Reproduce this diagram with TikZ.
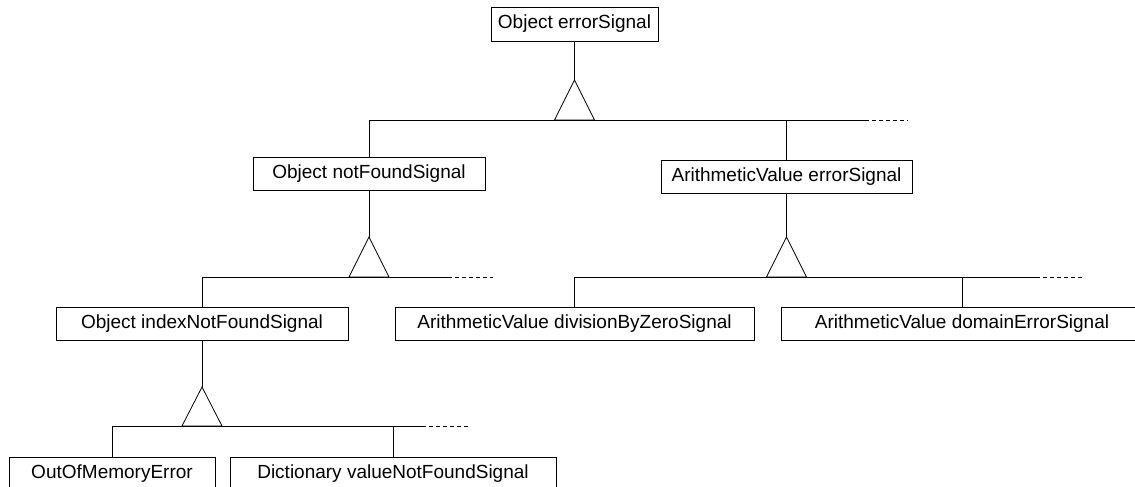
\documentclass[tikz,border=0pt]{standalone}
\usepackage{fontspec}
\setmainfont{Liberation Sans}
\begin{document}
\begin{tikzpicture}[x=1pt,y=-1pt,
  box/.style={draw, rectangle, line width=0.8pt, minimum height=34pt, inner sep=0pt,
              font=\fontsize{19}{22}\selectfont},
  link/.style={line width=0.8pt},
  tail/.style={line width=0.8pt, dash pattern=on 4pt off 3pt},
  gen/.style={line width=0.8pt}]
\useasboundingbox (0,0) rectangle (1135,487);

% classes
\node[box, minimum width=167pt] (top) at (574.5,24) {Object errorSignal};
\node[box, minimum width=232pt, minimum height=33pt] (nf) at (369,173.5) {Object notFoundSignal};
\node[box, minimum width=251pt, minimum height=33pt] (ae) at (786.5,177) {ArithmeticValue errorSignal};
\node[box, minimum width=292pt, minimum height=33pt] (inf) at (202,323.5) {Object indexNotFoundSignal};
\node[box, minimum width=359pt, minimum height=33pt] (dz) at (574.5,323.5) {ArithmeticValue divisionByZeroSignal};
\node[box, minimum width=362pt, minimum height=33pt] (de) at (962,323.5) {ArithmeticValue domainErrorSignal};
\node[box, minimum width=206pt] (oom) at (112,474) {OutOfMemoryError};
\node[box, minimum width=326pt] (dict) at (393,474) {Dictionary valueNotFoundSignal};

% generalisation triangles (apex points) and bus ends
\coordinate (g1) at (574.5,80);
\coordinate (b1) at (865,120);
\coordinate (d1) at (908,120);
\coordinate (g2) at (369,237);
\coordinate (b2) at (448,277);
\coordinate (d2) at (493,277);
\coordinate (g3) at (786.5,237);
\coordinate (b3) at (1036,277);
\coordinate (d3) at (1082,277);
\coordinate (g4) at (202,387);
\coordinate (b4) at (422,426);
\coordinate (d4) at (470,426);

% level 1
\draw[link] (top.south) -- (g1);
\draw[gen] (g1) -- ++(-20,40) -- ++(40,0) -- cycle;
\draw[link] (nf.north) |- (b1);
\draw[link] (ae.north) -- (ae.north |- b1);
\draw[tail] (b1) -- (d1);

% notFoundSignal subtree
\draw[link] (nf.south) -- (g2);
\draw[gen] (g2) -- ++(-20,40) -- ++(40,0) -- cycle;
\draw[link] (inf.north) |- (b2);
\draw[tail] (b2) -- (d2);

% ArithmeticValue errorSignal subtree
\draw[link] (ae.south) -- (g3);
\draw[gen] (g3) -- ++(-20,40) -- ++(40,0) -- cycle;
\draw[link] (dz.north) |- (b3);
\draw[link] (de.north) -- (de.north |- b3);
\draw[tail] (b3) -- (d3);

% indexNotFoundSignal subtree
\draw[link] (inf.south) -- (g4);
\draw[gen] (g4) -- ++(-20,39) -- ++(40,0) -- cycle;
\draw[link] (oom.north) |- (b4);
\draw[link] (dict.north) -- (dict.north |- b4);
\draw[tail] (b4) -- (d4);
\end{tikzpicture}
\end{document}
